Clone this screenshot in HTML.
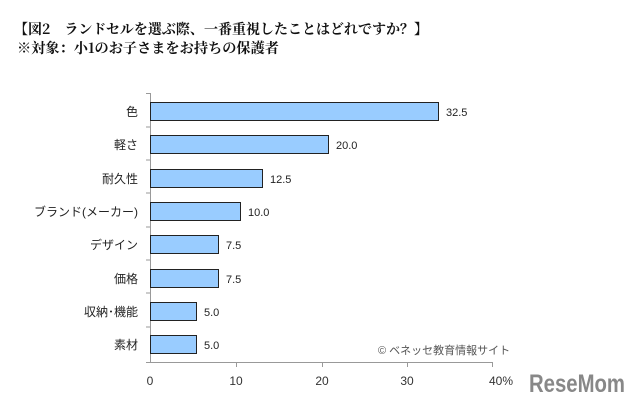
<!DOCTYPE html>
<html><head><meta charset="utf-8"><style>
body{margin:0;width:640px;height:404px;background:#fff;overflow:hidden}
</style></head><body>
<svg width="640" height="404" xmlns="http://www.w3.org/2000/svg" style="display:block">
<g font-family="'Noto Serif CJK SC','Liberation Serif',serif" font-weight="bold" font-size="14" fill="#111">
<text x="14" y="34" textLength="414" lengthAdjust="spacingAndGlyphs">【図2　ランドセルを選ぶ際、一番重視したことはどれですか？】</text>
<text x="17" y="53" textLength="262" lengthAdjust="spacingAndGlyphs">※対象：小1のお子さまをお持ちの保護者</text>
</g>
<g stroke="#999" stroke-width="1">
<line x1="150.5" y1="93" x2="150.5" y2="363"/>
<line x1="146" y1="362.5" x2="493" y2="362.5"/>
<line x1="146" y1="93.5" x2="150" y2="93.5"/>
<line x1="146" y1="127" x2="150" y2="127"/>
<line x1="146" y1="160" x2="150" y2="160"/>
<line x1="146" y1="193" x2="150" y2="193"/>
<line x1="146" y1="227" x2="150" y2="227"/>
<line x1="146" y1="260" x2="150" y2="260"/>
<line x1="146" y1="293" x2="150" y2="293"/>
<line x1="146" y1="327" x2="150" y2="327"/>
<line x1="236.5" y1="363" x2="236.5" y2="367"/>
<line x1="322.5" y1="363" x2="322.5" y2="367"/>
<line x1="407.5" y1="363" x2="407.5" y2="367"/>
<line x1="492.5" y1="363" x2="492.5" y2="367"/>
</g>
<g fill="#99ccff" stroke="#222" stroke-width="1">
<rect x="150.5" y="102.5" width="288" height="18"/>
<rect x="150.5" y="135.5" width="178" height="18"/>
<rect x="150.5" y="169.5" width="112" height="18"/>
<rect x="150.5" y="202.5" width="90" height="18"/>
<rect x="150.5" y="235.5" width="68" height="18"/>
<rect x="150.5" y="269.5" width="68" height="18"/>
<rect x="150.5" y="302.5" width="46" height="18"/>
<rect x="150.5" y="335.5" width="46" height="18"/>
</g>
<g font-family="'Liberation Sans','Noto Sans CJK JP',sans-serif" font-size="12" fill="#222">
<g text-anchor="end">
<text x="138" y="116">色</text>
<text x="138" y="149">軽さ</text>
<text x="138" y="183">耐久性</text>
<text x="138" y="216">ブランド(メーカー)</text>
<text x="138" y="249">デザイン</text>
<text x="138" y="283">価格</text>
<text x="138" y="316">収納･機能</text>
<text x="138" y="349">素材</text>
</g>
<g font-size="11">
<text x="446" y="116">32.5</text>
<text x="336" y="149">20.0</text>
<text x="270" y="183">12.5</text>
<text x="248" y="216">10.0</text>
<text x="226" y="249">7.5</text>
<text x="226" y="283">7.5</text>
<text x="204" y="316">5.0</text>
<text x="204" y="349">5.0</text>
</g>
<g font-size="12" text-anchor="middle" fill="#333">
<text x="150" y="385">0</text>
<text x="236" y="385">10</text>
<text x="322" y="385">20</text>
<text x="407" y="385">30</text>
<text x="501" y="385">40%</text>
</g>
<text x="378" y="354" font-size="11" fill="#555">© ベネッセ教育情報サイト</text>
</g>
<text x="529" y="392" font-family="'Liberation Sans',sans-serif" font-weight="bold" font-size="25" fill="#888" textLength="96" lengthAdjust="spacingAndGlyphs">ReseMom</text>
</svg>
</body></html>
